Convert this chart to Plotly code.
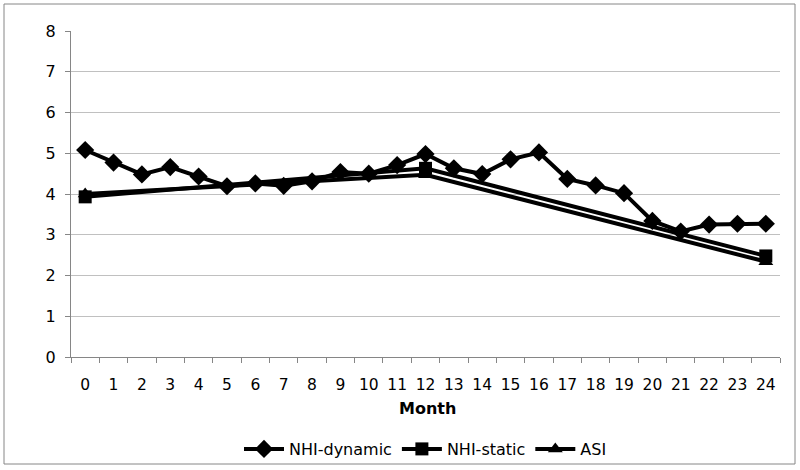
import plotly.graph_objects as go

months = [str(m) for m in range(25)]
nhi_dynamic = [5.08, 4.77, 4.48, 4.66, 4.43, 4.19, 4.26, 4.2, 4.31, 4.54, 4.5, 4.71, 4.98,
               4.63, 4.49, 4.85, 5.02, 4.37, 4.21, 4.02, 3.34, 3.08, 3.25, 3.27, 3.27]
static_months = ["0", "12", "24"]
nhi_static = [3.93, 4.63, 2.48]
asi_months = ["0", "12", "24"]
asi = [4.0, 4.47, 2.34]

FONT = "DejaVu Sans"
L, R, T, B = 71, 780, 31, 357
W, H = R - L, B - T

fig = go.Figure()
fig.add_trace(go.Scatter(x=asi_months, y=asi, name="ASI", mode="lines+markers",
                         line=dict(color="black", width=4),
                         marker=dict(symbol="triangle-up", size=13, color="black"),
                         legendrank=3))
fig.add_trace(go.Scatter(x=static_months, y=nhi_static, name="NHI-static", mode="lines+markers",
                         line=dict(color="black", width=4),
                         marker=dict(symbol="square", size=13, color="black"),
                         legendrank=2))
fig.add_trace(go.Scatter(x=months, y=nhi_dynamic, name="NHI-dynamic", mode="lines+markers",
                         line=dict(color="black", width=4),
                         marker=dict(symbol="diamond", size=14, color="black"),
                         legendrank=1))

fig.update_layout(
    width=800, height=470,
    margin=dict(l=L, r=800 - R, t=T, b=470 - B, autoexpand=False),
    paper_bgcolor="white", plot_bgcolor="white",
    font=dict(family=FONT, size=16, color="black"),
    showlegend=True,
    legend=dict(orientation="h", x=0.5, xanchor="center",
                yref="container", y=(470 - 449) / 470, yanchor="middle",
                font=dict(family=FONT, size=16), traceorder="normal",
                itemwidth=40, tracegroupgap=0, bgcolor="rgba(0,0,0,0)"),
    xaxis=dict(type="category", categoryorder="array", categoryarray=months,
               tickson="boundaries", ticks="outside", ticklen=5, tickcolor="#868686",
               showline=True, linecolor="#868686", linewidth=1, showgrid=False,
               range=[-0.5, 24.5], tickfont=dict(size=15.5), tickangle=0,
               ticklabelstandoff=13, automargin=False, fixedrange=True),
    yaxis=dict(range=[0, 8], dtick=1, tick0=0, ticks="outside", ticklen=5, tickcolor="#868686",
               showline=True, linecolor="#868686", linewidth=1,
               showgrid=True, gridcolor="#c0c0c0", gridwidth=1, zeroline=False,
               tickfont=dict(size=16), ticklabelstandoff=6, automargin=False,
               fixedrange=True),
    annotations=[dict(text="<b>Month</b>", xref="paper", yref="paper",
                      x=(427 - L) / W, y=(B - 408) / H, xanchor="center", yanchor="middle",
                      showarrow=False, font=dict(family=FONT, size=16))],
    shapes=[dict(type="rect", xref="paper", yref="paper",
                 x0=(4 - L) / W, x1=(795 - L) / W, y0=(B - 464) / H, y1=(B - 4) / H,
                 line=dict(color="#868686", width=1), layer="below")],
)

fig.write_html("out.html", config={"displayModeBar": False},
               post_script="document.body.style.margin='0';")
